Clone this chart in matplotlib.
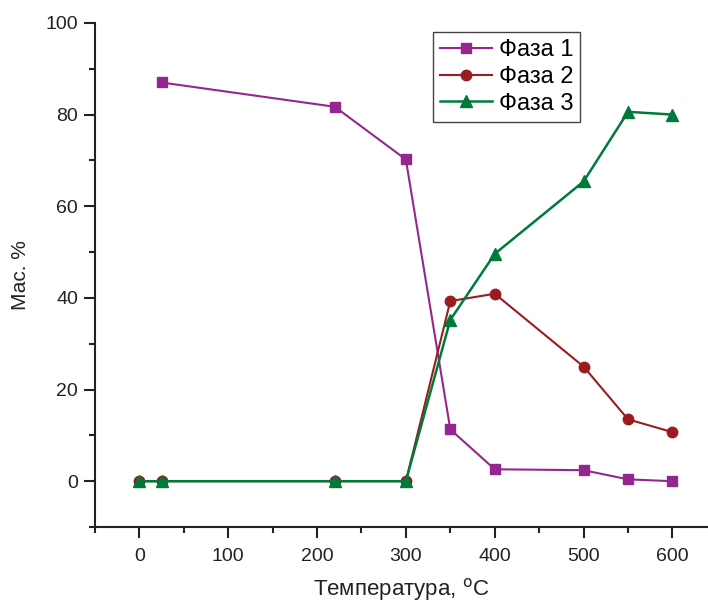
import matplotlib.pyplot as plt
from matplotlib.ticker import MultipleLocator

plt.rcParams['font.family'] = ['Liberation Sans', 'DejaVu Sans']

# data
temp_1 = [25, 220, 300, 350, 400, 500, 550, 600]
phase_1 = [87.0, 81.7, 70.2, 11.3, 2.6, 2.4, 0.4, 0.0]

temp_23 = [0, 25, 220, 300, 350, 400, 500, 550, 600]
phase_2 = [0, 0, 0, 0, 39.3, 40.9, 25.0, 13.5, 10.7]
phase_3 = [0, 0, 0, 0, 35.2, 49.6, 65.4, 80.6, 80.0]

labels = ['Фаза 1', 'Фаза 2', 'Фаза 3']

fig = plt.figure(figsize=(7.08, 6.03), dpi=100)
ax = fig.add_axes([0.134, 0.126, 0.866, 0.836])

ax.plot(temp_1, phase_1, color='#93278F', marker='s', ms=7, lw=1.5, label=labels[0])
ax.plot(temp_23, phase_2, color='#9A1C1F', marker='o', ms=7.5, lw=1.5, label=labels[1])
ax.plot(temp_23, phase_3, color='#007A3A', marker='^', ms=8.5, lw=1.8, label=labels[2])

ax.set_xlim(-50, 640)
ax.set_ylim(-10, 100)
ax.xaxis.set_major_locator(MultipleLocator(100))
ax.xaxis.set_minor_locator(MultipleLocator(50))
ax.yaxis.set_major_locator(MultipleLocator(20))
ax.yaxis.set_minor_locator(MultipleLocator(10))

for s in ['top', 'right']:
    ax.spines[s].set_visible(False)
for s in ['left', 'bottom']:
    ax.spines[s].set_linewidth(1.5)
    ax.spines[s].set_color('#222222')
ax.tick_params(which='major', direction='out', length=8, width=1.5, labelsize=14, colors='#222222', pad=4)
ax.tick_params(which='minor', direction='out', length=4.5, width=1.5, colors='#222222')
ax.tick_params(axis='x', which='major', pad=7)

ax.set_xlabel('Температура, $^{\\mathrm{o}}$C', fontsize=16, color='#222222', labelpad=8)
ax.set_ylabel('Мас. %', fontsize=15, color='#222222', labelpad=11)

leg = ax.legend(loc='upper left', bbox_to_anchor=(0.551, 0.982), fontsize=17,
                fancybox=False, framealpha=1, edgecolor='#444444',
                handlelength=2.2, handletextpad=0.3, borderpad=0.3, labelspacing=0.2,
                borderaxespad=0)
leg.get_frame().set_linewidth(1.0)

plt.savefig('out.png', dpi=100)
plt.close()
